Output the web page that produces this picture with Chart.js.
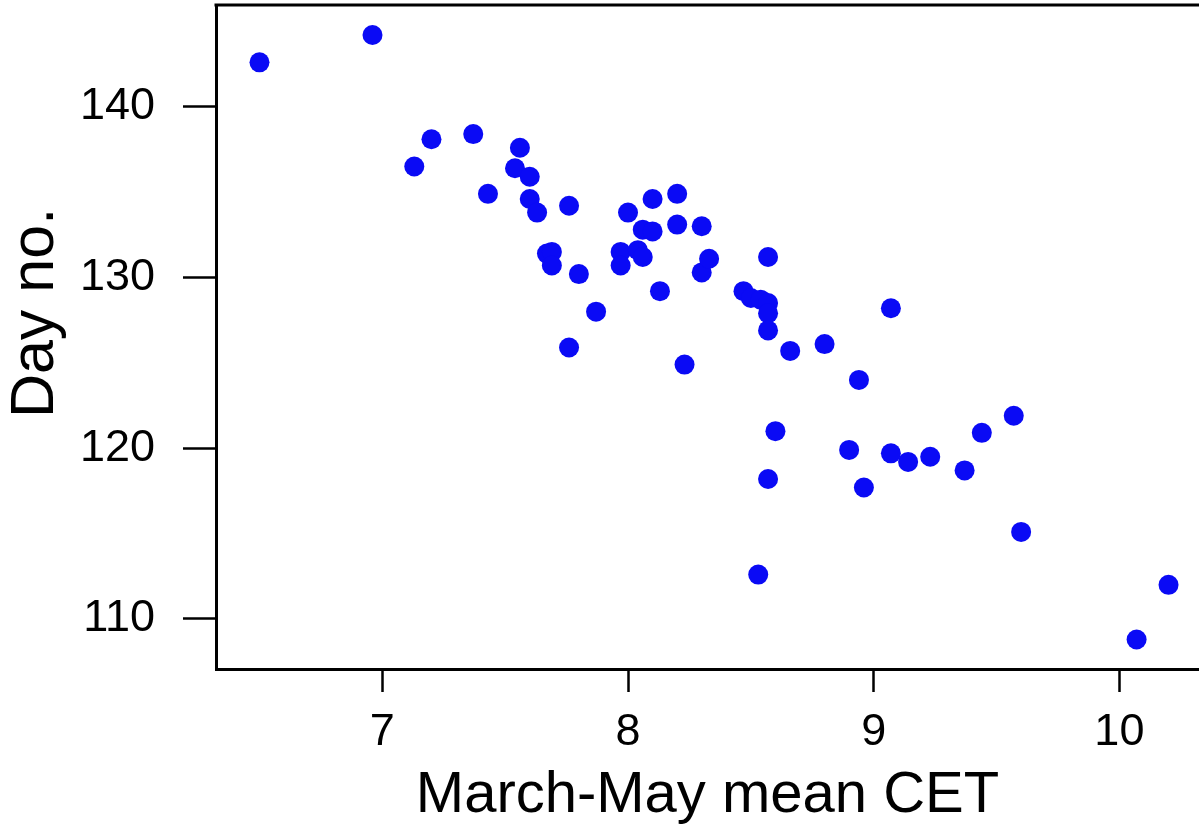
<!DOCTYPE html>
<html lang="en">
<head>
  <meta charset="UTF-8" />
  <title>Day no. vs March-May mean CET</title>
  <script src="https://cdn.jsdelivr.net/npm/chart.js@4"></script>
  <style>
    html, body { margin: 0; padding: 0; background: #fff; }
    canvas { display: block; }
  </style>
</head>
<body>
  <canvas id="cetChart" width="1199" height="831"></canvas>

  <script>
    // March-May mean CET and the day number
    const cetValues = [
      6.50, 6.96, 7.13, 7.20, 7.37, 7.43, 7.54, 7.56, 7.60, 7.60,
      7.63, 7.76, 7.67, 7.69, 7.69, 7.80, 7.76, 7.87, 7.97, 7.97,
      8.00, 8.04, 8.06, 8.06, 8.10, 8.10, 8.13, 8.20, 8.20, 8.30,
      8.30, 8.33, 8.23, 8.47, 8.50, 8.54, 8.57, 8.57, 8.57, 8.57,
      8.60, 8.57, 8.53, 8.66, 8.80, 8.90, 8.94, 8.96, 9.07, 9.07,
      9.14, 9.23, 9.37, 9.44, 9.57, 9.60, 10.07, 10.20
    ];
    const dayValues = [
      142.6, 144.2, 136.5, 138.1, 138.4, 134.9, 136.4, 137.6, 135.9, 134.6,
      133.8, 134.2, 131.4, 131.5, 130.7, 130.2, 125.9, 128.0, 131.5, 130.7,
      133.8, 131.6, 131.2, 132.8, 132.7, 134.6, 129.2, 134.9, 133.1, 133.0,
      130.3, 131.1, 124.9, 129.2, 128.8, 128.7, 128.5, 127.9, 126.9, 131.2,
      121.0, 118.2, 112.6, 125.7, 126.1, 119.9, 124.0, 117.7, 128.2, 119.7,
      119.2, 119.5, 118.7, 120.9, 121.9, 115.1, 108.8, 112.0
    ];
    const xTicks = [7, 8, 9, 10];
    const yTicks = [110, 120, 130, 140];
    const yTitle = "Day no.";

    const points = cetValues.map((x, i) => ({ x: x, y: dayValues[i] }));

    // top edge of the frame, plus the y title (sits a bit above the centre in the original)
    const frameAndTitle = {
      id: "frameAndTitle",
      afterDraw(chart) {
        const { ctx, chartArea } = chart;
        ctx.save();
        ctx.strokeStyle = "#000";
        ctx.lineWidth = 3;
        ctx.beginPath();
        ctx.moveTo(chartArea.left - 1.5, chartArea.top);
        ctx.lineTo(chartArea.right, chartArea.top);
        ctx.stroke();

        ctx.translate(36, 313);
        ctx.rotate(-Math.PI / 2);
        ctx.fillStyle = "#000";
        ctx.font = "61px 'Liberation Sans', Arial, sans-serif";
        ctx.textAlign = "center";
        ctx.textBaseline = "middle";
        ctx.fillText(yTitle, 0, 0);
        ctx.restore();
      }
    };

    Chart.defaults.font.family = "'Liberation Sans', Arial, sans-serif";
    Chart.defaults.color = "#000";

    new Chart(document.getElementById("cetChart"), {
      type: "scatter",
      data: {
        datasets: [{
          data: points,
          backgroundColor: "rgb(10,10,245)",
          borderWidth: 0,
          pointRadius: 10,
          pointHoverRadius: 10
        }]
      },
      options: {
        responsive: false,
        devicePixelRatio: 1,
        animation: false,
        layout: { autoPadding: false, padding: { top: 5, right: 0, bottom: 0, left: 0 } },
        plugins: {
          legend: { display: false },
          tooltip: { enabled: false }
        },
        scales: {
          x: {
            type: "linear",
            min: 6.323,
            max: 10.324,
            afterBuildTicks: s => { s.ticks = xTicks.map(v => ({ value: v })); },
            afterFit: s => { s.height = 162; s.paddingLeft = 0; s.paddingRight = 0; },
            grid: { drawOnChartArea: false, tickLength: 23, tickWidth: 2.5, tickColor: "#000" },
            border: { color: "#000", width: 3 },
            ticks: { font: { size: 45 }, padding: 14, maxRotation: 0 },
            title: { display: true, text: "March-May mean CET", font: { size: 58 }, padding: 0 }
          },
          y: {
            type: "linear",
            min: 107.07,
            max: 145.96,
            afterBuildTicks: s => { s.ticks = yTicks.map(v => ({ value: v })); },
            afterFit: s => { s.width = 216; s.paddingTop = 0; s.paddingBottom = 0; },
            grid: { drawOnChartArea: false, tickLength: 33, tickWidth: 2.5, tickColor: "#000" },
            border: { color: "#000", width: 3 },
            ticks: { font: { size: 45 }, padding: 28 },
            title: { display: false }
          }
        }
      },
      plugins: [frameAndTitle]
    });
  </script>
</body>
</html>
